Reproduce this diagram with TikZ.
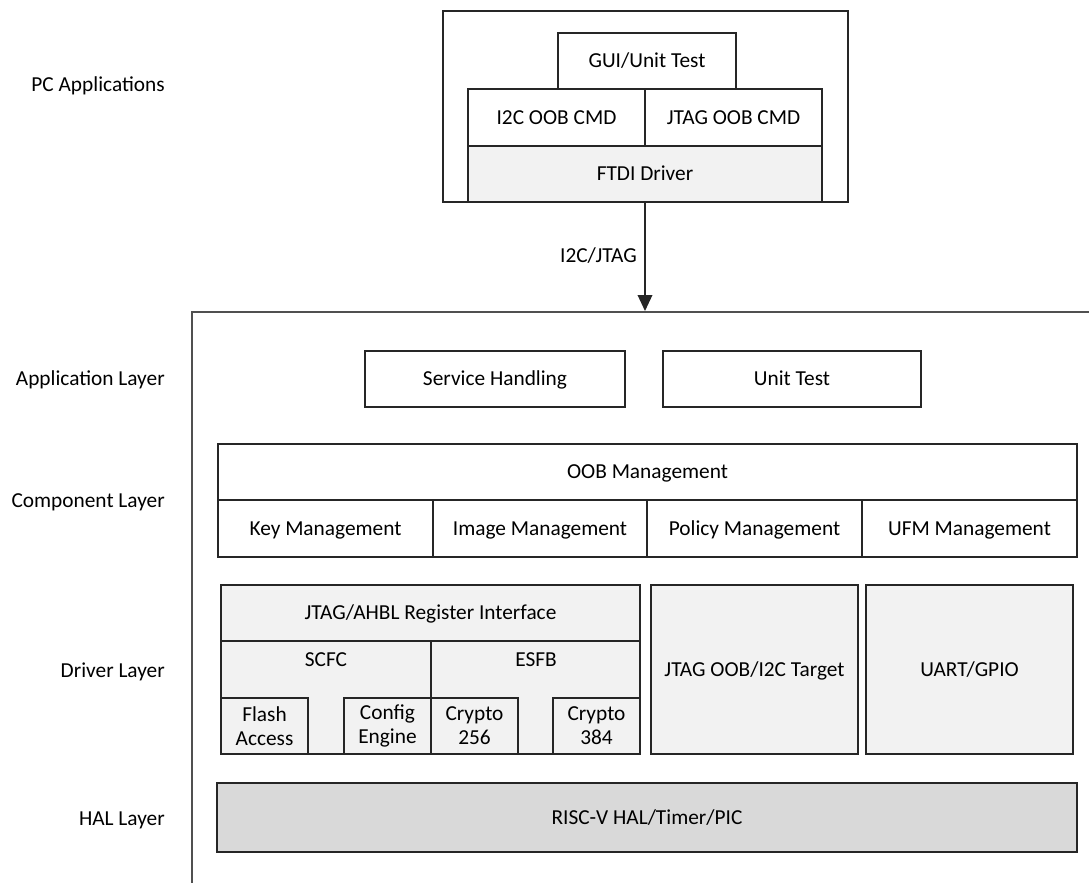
\documentclass[tikz,border=0pt]{standalone}
\usepackage{fontspec}
\setmainfont{Carlito}
\usetikzlibrary{fit,arrows.meta}
\definecolor{edge}{HTML}{262626}
\definecolor{frame}{HTML}{505050}
\definecolor{lightfill}{HTML}{F2F2F2}
\definecolor{halfill}{HTML}{D9D9D9}
\tikzset{
  txt/.style={inner sep=0pt, align=center, font=\fontsize{16}{18}\selectfont},
  % one-line text: centre on the capitals
  line/.style={txt, text height=10.3pt, text depth=0pt},
  blk/.style={draw=edge, line width=1pt, inner sep=0pt},
  soft/.style={blk, fill=lightfill},
  hal/.style={blk, fill=halfill},
  layer/.style={line, anchor=east},
  tag/.style={line},
  % caption centred inside a box
  boxtext/.style={label={[line]center:{#1}}},
  boxtwo/.style={label={[txt]center:{#1}}},
}
\begin{document}
\begin{tikzpicture}[x=0.75pt, y=-0.75pt]
  \useasboundingbox (0,0) rectangle (1089,882);
  \clip (0,0) rectangle (1089,882);

  % layer captions
  \node[layer] (capPC)  at (165,85)  {PC Applications};
  \node[layer] (capApp) at (165,379) {Application Layer};
  \node[layer] (capCmp) at (165,501) {Component Layer};
  \node[layer] (capDrv) at (165,671) {Driver Layer};
  \node[layer] (capHAL) at (165,819) {HAL Layer};

  % PC side
  \node[blk, fit={(443,11)(848,202)}] (pc) {};
  \node[blk, fit={(558,33)(736,89)}, boxtext={GUI/Unit Test}] (gui) {};
  \node[blk, fit={(468,89)(645,146)}, boxtext={I2C OOB CMD}] (i2c) {};
  \node[blk, fit={(645,89)(822,146)}, boxtext={JTAG OOB CMD}] (jtag) {};
  \node[soft, fit={(468,146)(822,202)}, boxtext={FTDI Driver}] (ftdi) {};

  % firmware frame (runs off the page to the right and bottom)
  \node[blk, line width=1.5pt, draw=frame, fit={(192,312)(1130,930)}] (fw) {};

  % link from the PC to the firmware
  \draw[edge, line width=1pt, -{Triangle[width=11pt,length=12pt]}]
    (ftdi.south) -- (ftdi.south |- fw.north);
  \node[tag, anchor=east] (link) at (637,256) {I2C/JTAG};

  % application layer
  \node[blk, fit={(365,351)(625,407)}, boxtext={Service Handling}] (svc) {};
  \node[blk, fit={(663,351)(921,407)}, boxtext={Unit Test}] (ut) {};

  % component layer
  \node[blk, fit={(218,444)(1077,500)}, boxtext={OOB Management}] (oob) {};
  \node[blk, fit={(218,500)(433,557)}, boxtext={Key Management}] (key) {};
  \node[blk, fit={(433,500)(647,557)}, boxtext={Image Management}] (img) {};
  \node[blk, fit={(647,500)(862,557)}, boxtext={Policy Management}] (pol) {};
  \node[blk, fit={(862,500)(1077,557)}, boxtext={UFM Management}] (ufm) {};

  % driver layer
  \node[soft, fit={(221,585)(640,641)}, boxtext={JTAG/AHBL Register Interface}] (ahbl) {};
  \node[soft, fit={(221,641)(431,754)}] (scfc) {};
  \node[tag] (scfcT) at (326,660) {SCFC};
  \node[soft, fit={(431,641)(640,754)}] (esfb) {};
  \node[tag] (esfbT) at (536,660) {ESFB};
  \node[soft, fit={(221,698)(308,754)}, boxtwo={Flash\\Access}] (flash) {};
  \node[soft, fit={(344,698)(431,754)}, boxtwo={Config\\Engine}] (cfg) {};
  \node[soft, fit={(431,698)(518,754)}, boxtwo={Crypto\\256}] (c256) {};
  \node[soft, fit={(553,698)(640,754)}, boxtwo={Crypto\\384}] (c384) {};
  \node[soft, fit={(651,585)(858,754)}, boxtext={JTAG OOB/I2C Target}] (tgt) {};
  \node[soft, fit={(866,585)(1073,754)}, boxtext={UART/GPIO}] (uart) {};

  % HAL layer
  \node[hal, fit={(217,783)(1077,852)}, boxtext={RISC-V HAL/Timer/PIC}] (risc) {};
\end{tikzpicture}
\end{document}
